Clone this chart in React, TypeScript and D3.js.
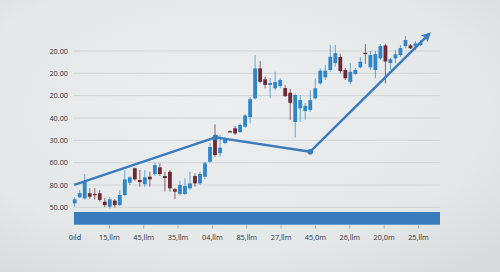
import React from "react";
import * as d3 from "d3";

// ---- data ----
const opens = [51.8,54.5,54.0,56.3,56.0,56.3,52.5,50.3,53.0,51.0,55.5,61.0,67.5,62.2,60.4,63.7,64.9,67.9,64.0,65.9,58.1,56.0,56.0,58.5,64.0,60.7,63.7,70.4,80.6,74.2,78.8,84.1,85.4,83.7,86.1,90.4,98.8,112.2,107.3,104.8,103.3,104.3,103.4,101.3,88.2,94.3,93.1,93.6,98.8,105.5,108.2,111.5,114.6,117.3,111.5,106.2,109.7,112.7,119.2,112.7,111.5,116.7,122.5,114.6,116.7,118.2,122.2,122.5,122.1,122.7];
const closes = [53.6,56.3,61.5,54.7,55.4,53.3,51.0,53.6,51.0,55.5,62.5,63.4,62.5,61.3,63.4,62.5,68.9,64.9,63.1,58.5,57.0,60.0,59.5,60.7,60.7,64.9,69.7,77.0,73.4,76.7,80.6,83.8,83.1,86.9,91.1,98.4,112.2,106.2,104.8,105.7,106.1,107.0,99.8,96.8,100.3,98.0,95.4,98.0,103.3,111.2,111.2,117.4,119.0,111.0,107.8,110.7,111.5,115.2,118.6,118.2,118.6,122.2,115.3,116.3,118.5,121.3,124.9,121.2,123.4,123.8];
const highs = [54.6,57.7,64.9,58.6,58.6,57.7,54.2,54.6,53.7,57.7,66.4,64.0,67.9,66.7,66.7,65.9,70.0,69.7,65.9,66.7,58.6,61.8,63.0,65.9,65.2,65.9,70.4,78.7,87.2,82.4,81.5,84.4,86.4,87.5,91.8,99.3,118.2,115.5,108.5,107.9,110.7,107.9,104.8,103.0,101.0,100.3,96.7,102.5,107.7,112.2,113.7,122.7,122.7,118.8,112.4,114.5,112.4,117.2,123.1,120.0,120.0,123.1,123.3,116.9,120.4,122.7,126.7,123.1,124.5,124.9];
const lows = [50.3,54.2,53.5,53.7,53.5,52.4,50.1,49.5,49.9,50.6,55.1,60.0,61.9,59.2,59.2,59.2,64.0,64.0,57.0,57.0,53.7,55.3,55.5,57.7,59.2,60.0,62.5,69.8,72.5,72.7,78.3,83.5,82.4,83.3,85.7,87.7,98.3,105.5,103.3,98.9,102.5,103.3,99.4,89.1,81.3,88.3,89.2,92.7,98.3,104.8,107.0,110.7,113.0,110.0,107.0,105.1,109.2,112.2,114.2,111.5,107.8,116.0,105.5,111.5,114.5,117.4,121.2,120.9,120.4,122.2];

// trend line: [candle index, value]
const trendIdx = [-0.1, 28.1, 47.0, 70.8];
const trendVal = [60.0, 81.3, 74.9, 127.8];

const yTickValues = [120, 110, 100, 90, 80, 70, 60, 50];
const yTickLabels = ["20.00", "20.00", "20.00", "40.00", "30.00", "60.00", "80.00", "50.00"];
const xTickLabels = ["0ıld", "15,llm", "45,llm", "35,llm", "04,llm", "85,llm", "27,llm", "45,0m", "26,llm", "20,0m", "25,llm"];

const W = 500;
const H = 272;
const BLUE = "#2e85c8";
const MAROON = "#6b2a36";
const LINE = "#3a7bbd";
const FONT = "'Open Sans', 'Noto Sans', sans-serif";

export default function App() {
  const y = d3.scaleLinear().domain([50, 120]).range([207.3, 51]);
  const x = d3.scaleLinear().domain([0, 69]).range([74.7, 420.5]);
  const xl = d3.scalePoint<string>().domain(xTickLabels).range([75, 418.5]);
  const gridX0 = 73;
  const gridX1 = 440;
  const bodyW = 3.8;

  const trend = d3
    .line<number>()
    .x((_, i) => x(trendIdx[i]))
    .y((_, i) => y(trendVal[i]));
  const trendPath = trend(trendIdx) || "";

  const barTop = y(50) + 4.7;
  const barH = 12.7;

  return (
    <svg
      width={W}
      height={H}
      style={{ position: "absolute", left: 0, top: 0, display: "block" }}
    >
      <defs>
        <radialGradient id="bg" cx="0.45" cy="0.4" r="0.75">
          <stop offset="0%" stopColor="#eceeef" />
          <stop offset="70%" stopColor="#e5e8e9" />
          <stop offset="100%" stopColor="#d8dbdc" />
        </radialGradient>
        <marker
          id="arrow"
          viewBox="0 0 10 10"
          refX="8"
          refY="5"
          markerWidth="4"
          markerHeight="4"
          orient="auto"
          markerUnits="strokeWidth"
        >
          <path d="M0,0 L10,5 L0,10 L2.5,5 Z" fill={LINE} />
        </marker>
      </defs>
      <rect x={0} y={0} width={W} height={H} fill="url(#bg)" />

      {/* grid + y labels */}
      {yTickValues.map((v, i) => (
        <g key={"g" + i}>
          <line
            x1={gridX0}
            x2={gridX1}
            y1={y(v)}
            y2={y(v)}
            stroke="#d0d4d6"
            strokeWidth={1}
          />
          <text
            x={68}
            y={y(v)}
            dy="0.35em"
            textAnchor="end"
            fontFamily={FONT}
            fontSize={7.3}
            fill="#2e3236"
          >
            {yTickLabels[i]}
          </text>
        </g>
      ))}

      {/* candles */}
      {opens.map((o, i) => {
        const c = closes[i];
        const up = c >= o;
        const col = up ? BLUE : MAROON;
        const cx = x(i);
        const top = y(Math.max(o, c));
        const bot = y(Math.min(o, c));
        return (
          <g key={"c" + i}>
            <line
              x1={cx}
              x2={cx}
              y1={y(highs[i])}
              y2={y(lows[i])}
              stroke={col}
              strokeOpacity={0.7}
              strokeWidth={1}
            />
            <rect
              x={cx - bodyW / 2}
              y={top}
              width={bodyW}
              height={Math.max(1.3, bot - top)}
              fill={col}
            />
          </g>
        );
      })}

      {/* trend line */}
      <path
        d={trendPath}
        fill="none"
        stroke={LINE}
        strokeWidth={2.4}
        strokeLinejoin="round"
        markerEnd="url(#arrow)"
      />
      {[1, 2].map((k) => (
        <circle
          key={"d" + k}
          cx={x(trendIdx[k])}
          cy={y(trendVal[k])}
          r={2.8}
          fill={LINE}
        />
      ))}

      {/* bottom bar */}
      <rect
        x={gridX0 + 1}
        y={barTop}
        width={gridX1 - gridX0 - 1}
        height={barH}
        fill="#3a7bbd"
      />

      {/* x ticks + labels */}
      {xTickLabels.map((lab, i) => (
        <g key={"x" + i}>
          {i > 0 && (
            <line
              x1={xl(lab)!}
              x2={xl(lab)!}
              y1={barTop + barH + 0.5}
              y2={barTop + barH + 4}
              stroke="#9aa3a8"
              strokeWidth={0.8}
            />
          )}
          <text
            x={xl(lab)!}
            y={239.5}
            textAnchor="middle"
            fontFamily={FONT}
            fontSize={7.3}
            fill="#2e3236"
          >
            {lab}
          </text>
        </g>
      ))}
    </svg>
  );
}
